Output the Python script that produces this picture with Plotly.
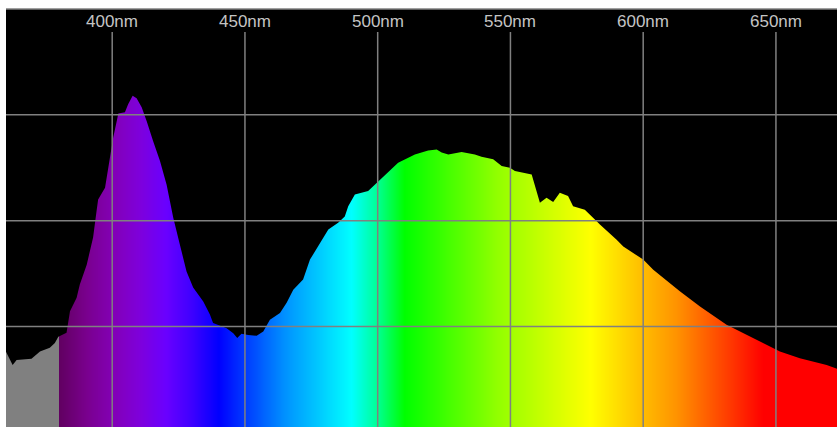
import plotly.graph_objects as go

# ---- data (wavelength in nm, relative intensity in %) ----
wavelength = [360.0, 362.5, 364.0, 369.6, 372.8, 376.5, 378.4, 379.7, 382.8, 384.1,
              386.6, 387.8, 390.4, 392.8, 394.1, 394.7, 397.3, 397.9, 399.1, 400.4,
              401.7, 402.3, 404.8, 406.0, 407.7, 409.2, 411.1, 413.0, 415.4, 418.0,
              420.5, 423.0, 425.5, 428.0, 430.5, 434.3, 436.8, 438.0, 443.1, 445.6,
              447.1, 448.7, 451.2, 454.4, 456.9, 459.4, 463.2, 465.7, 468.2, 471.9,
              474.5, 478.2, 481.4, 485.1, 487.6, 488.9, 491.4, 496.4, 500.2, 504.0,
              507.7, 514.0, 519.0, 522.2, 524.1, 526.6, 531.6, 536.6, 539.1, 543.5,
              546.7, 549.8, 551.7, 558.0, 559.2, 561.1, 563.6, 566.1, 568.6, 571.7,
              573.6, 578.0, 581.8, 583.7, 590.0, 592.5, 600.0, 603.8, 613.8, 621.4,
              631.4, 643.9, 651.5, 659.0, 669.1, 673.0]
intensity = [19.0, 15.9, 17.1, 17.4, 19.1, 20.0, 21.1, 22.6, 23.5, 28.6,
             31.8, 34.9, 39.6, 46.0, 52.2, 55.0, 57.8, 60.2, 64.9, 69.7,
             73.5, 75.3, 75.6, 77.5, 79.5, 78.9, 76.8, 73.5, 68.8, 64.1,
             58.5, 50.7, 44.3, 38.0, 34.2, 30.9, 27.8, 25.8, 24.6, 23.4,
             22.3, 23.3, 23.0, 22.8, 23.8, 26.6, 28.2, 30.6, 33.7, 36.1,
             40.8, 44.7, 47.9, 49.5, 51.0, 53.4, 56.2, 57.0, 59.3, 61.7,
             63.7, 65.6, 66.6, 66.8, 66.1, 65.6, 66.2, 65.6, 65.1, 64.5,
             62.9, 62.5, 61.7, 60.9, 58.1, 54.2, 55.4, 54.4, 56.6, 55.8,
             53.4, 52.6, 50.3, 49.1, 45.5, 43.9, 40.8, 38.4, 33.3, 29.7,
             25.4, 21.4, 19.1, 17.5, 15.9, 15.0]

x_ticks = [400, 450, 500, 550, 600, 650]
x_tick_labels = ["400nm", "450nm", "500nm", "550nm", "600nm", "650nm"]
y_grid = [25, 50, 75]

X_RANGE = [360, 673]
Y_RANGE = [1.25, 100]

# spectrum colour stops (nm, colour)
color_stops = [
    (360.0, "#808080"), (379.9, "#808080"),
    (380.0, "#610061"), (390.0, "#79008d"), (400.0, "#8300b5"),
    (410.0, "#7e00db"), (420.0, "#6a00ff"), (430.0, "#3d00ff"),
    (440.0, "#0000ff"), (465.0, "#0092ff"), (490.0, "#00ffff"),
    (500.0, "#00ff92"), (510.0, "#00ff00"), (545.0, "#92ff00"),
    (580.0, "#ffff00"), (612.5, "#ff9200"), (645.0, "#ff0000"),
    (673.0, "#ff0000"),
]
zmin, zmax = X_RANGE
colorscale = [[(w - zmin) / (zmax - zmin), c] for w, c in color_stops]

fig = go.Figure()

# colour band behind the spectrum
fig.add_trace(go.Heatmap(
    x=wavelength, y=[Y_RANGE[0] - 10, Y_RANGE[1] + 10],
    z=[wavelength, wavelength],
    zmin=zmin, zmax=zmax, colorscale=colorscale,
    zsmooth="best", showscale=False, hoverinfo="skip",
))

# black mask above the curve
top = [Y_RANGE[1] + 10] * len(wavelength)
fig.add_trace(go.Scatter(x=wavelength, y=top, mode="lines",
                         line=dict(width=0, color="black"), hoverinfo="skip",
                         showlegend=False))
fig.add_trace(go.Scatter(x=wavelength, y=intensity, mode="lines",
                         line=dict(width=0, color="black"),
                         fill="tonexty", fillcolor="black",
                         showlegend=False))

grid_color = "#808080"
shapes = []
for t in x_ticks:
    shapes.append(dict(type="line", xref="x", yref="paper", x0=t, x1=t,
                       y0=0, y1=0.945, layer="above",
                       line=dict(color=grid_color, width=1.5)))
for g in y_grid:
    shapes.append(dict(type="line", xref="paper", yref="y", x0=0, x1=1,
                       y0=g, y1=g, layer="above",
                       line=dict(color=grid_color, width=1.5)))
# top border
shapes.append(dict(type="line", xref="paper", yref="paper", x0=0, x1=1,
                   y0=1, y1=1, layer="above",
                   line=dict(color=grid_color, width=1.5)))

annotations = [dict(x=t, y=0.970, xref="x", yref="paper", text=lab,
                    showarrow=False, xanchor="center", yanchor="middle",
                    font=dict(family="Liberation Sans Narrow, Liberation Sans",
                              size=17, color="#c4c4c4"))
               for t, lab in zip(x_ticks, x_tick_labels)]

fig.update_layout(
    width=837, height=427,
    margin=dict(l=6, r=0, t=9, b=0),
    paper_bgcolor="white", plot_bgcolor="black",
    showlegend=False,
    shapes=shapes, annotations=annotations,
    xaxis=dict(range=X_RANGE, showgrid=False, zeroline=False,
               showticklabels=False, ticks="", fixedrange=True),
    yaxis=dict(range=Y_RANGE, showgrid=False, zeroline=False,
               showticklabels=False, ticks="", fixedrange=True),
)

fig.write_html("out.html", config={"displayModeBar": False},
               post_script="document.body.style.margin='0';"
                           "document.body.style.overflow='hidden';")
